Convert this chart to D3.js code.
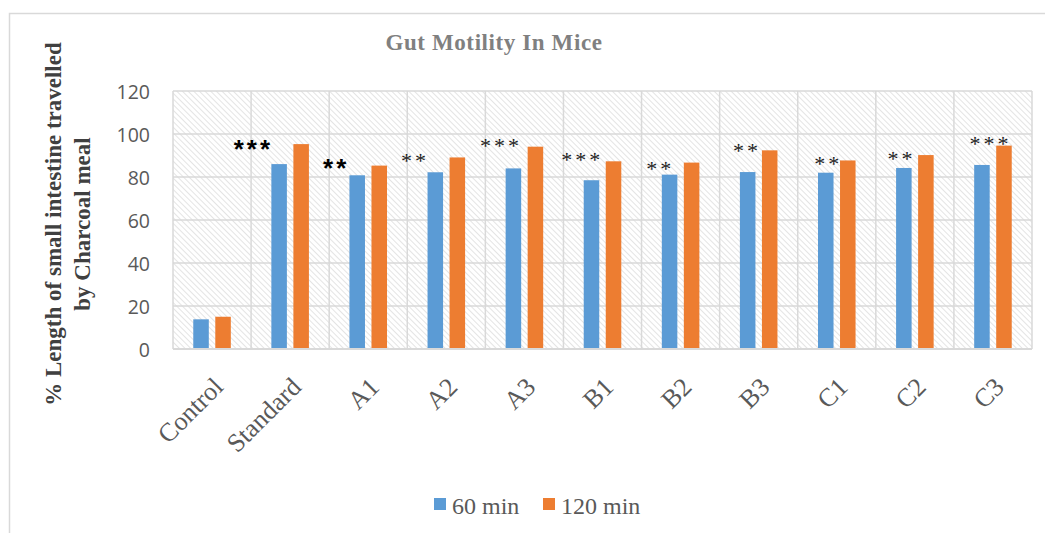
<!DOCTYPE html>
<html>
<head>
<meta charset="utf-8">
<script src="https://cdn.jsdelivr.net/npm/d3@7"></script>
<style>
  html, body { margin: 0; padding: 0; background: #fff; }
  svg { display: block; }
</style>
</head>
<body>
<svg id="chart" width="1045" height="533"></svg>
<script>
// ---- data ----
const categories = ["Control", "Standard", "A1", "A2", "A3", "B1", "B2", "B3", "C1", "C2", "C3"];
const seriesNames = ["60 min", "120 min"];
const values60 = [13.8, 86.0, 80.8, 82.2, 84.0, 78.5, 81.1, 82.3, 82.0, 84.2, 85.6];
const values120 = [15.0, 95.3, 85.3, 89.1, 94.1, 87.3, 86.7, 92.4, 87.7, 90.2, 94.6];
const yTicks = [0, 20, 40, 60, 80, 100, 120];
// significance marks: text, level (in data units), horizontal place within category band (0..1)
const sigText = ["", "***", "**", "**", "***", "***", "**", "**", "**", "**", "***"];
const sigLevel = [0, 95.5, 86.5, 90.7, 97.5, 91.2, 87.0, 95.3, 89.3, 91.6, 98.6];
const sigPlace = [0, 0.03, 0.09, 0.10, 0.20, 0.24, 0.24, 0.35, 0.39, 0.33, 0.47];
const sigBold = [false, true, true, false, false, false, false, false, false, false, false];
const colors = ["#5b9bd5", "#ed7d31"];

// ---- layout ----
const svg = d3.select("#chart");
const plot = { left: 173, top: 91, right: 1032, bottom: 349 };

// outer frame
svg.append("rect").attr("x", 9.5).attr("y", 13.5).attr("width", 1200).attr("height", 700)
  .attr("fill", "#fff").attr("stroke", "#d9d9d9").attr("stroke-width", 1.5);

// hatch pattern
const defs = svg.append("defs");
const pat = defs.append("pattern").attr("id", "hatch").attr("patternUnits", "userSpaceOnUse")
  .attr("width", 4).attr("height", 4).attr("patternTransform", "rotate(-45)");
pat.append("rect").attr("width", 4).attr("height", 4).attr("fill", "#ffffff");
pat.append("line").attr("x1", 0).attr("y1", 0).attr("x2", 0).attr("y2", 4)
  .attr("stroke", "#e0e0e0").attr("stroke-width", 1.7);

const x0 = d3.scaleBand().domain(categories).range([plot.left, plot.right]).padding(0);
const x1 = d3.scaleBand().domain(seriesNames).range([0, x0.bandwidth()])
  .paddingInner(0.295).paddingOuter(0.92);
const y = d3.scaleLinear().domain([0, 120]).range([plot.bottom, plot.top]);

// plot background
svg.append("rect").attr("x", plot.left).attr("y", plot.top)
  .attr("width", plot.right - plot.left).attr("height", plot.bottom - plot.top)
  .attr("fill", "url(#hatch)");

// horizontal grid
svg.append("g").selectAll("line").data(yTicks).join("line")
  .attr("x1", plot.left).attr("x2", plot.right)
  .attr("y1", d => y(d)).attr("y2", d => y(d))
  .attr("stroke", "#d9d9d9").attr("stroke-width", 1.5);

// vertical grid at category boundaries
const bounds = categories.map(c => x0(c)).concat([plot.right]);
svg.append("g").selectAll("line").data(bounds).join("line")
  .attr("x1", d => d).attr("x2", d => d)
  .attr("y1", plot.top).attr("y2", plot.bottom)
  .attr("stroke", "#d9d9d9").attr("stroke-width", 1.5);

// bars
const rows = categories.map((c, i) => ({ c, vals: [values60[i], values120[i]] }));
const g = svg.append("g");
rows.forEach(r => {
  r.vals.forEach((v, k) => {
    g.append("rect")
      .attr("x", x0(r.c) + x1(seriesNames[k]))
      .attr("width", x1.bandwidth())
      .attr("y", y(v))
      .attr("height", y(0) - y(v))
      .attr("fill", colors[k]);
  });
});

// axis baseline
svg.append("line").attr("x1", plot.left).attr("x2", plot.right)
  .attr("y1", y(0)).attr("y2", y(0)).attr("stroke", "#d9d9d9").attr("stroke-width", 2);

// y axis labels
const yAxis = d3.axisLeft(y).tickValues(yTicks).tickSize(0).tickPadding(0);
const ya = svg.append("g").attr("transform", `translate(${150},0)`).call(yAxis);
ya.select(".domain").remove();
ya.selectAll("text").attr("font-family", "'Open Sans', 'Liberation Sans', sans-serif")
  .attr("font-size", "19.5px").attr("fill", "#595959").attr("dy", "0.36em");

// x axis labels (rotated)
const xAxis = d3.axisBottom(x0).tickSize(0).tickPadding(0);
const xa = svg.append("g").attr("transform", `translate(0,${376})`).call(xAxis);
xa.select(".domain").remove();
xa.selectAll("text")
  .attr("font-family", "'Liberation Serif', 'Times New Roman', serif")
  .attr("font-size", "26px").attr("fill", "#595959")
  .attr("text-anchor", "end")
  .attr("dy", "0.68em").attr("y", 0).attr("x", 0)
  .attr("transform", "rotate(-45)");

// significance marks
svg.append("g").selectAll("text").data(categories.map((c, i) => i).filter(i => sigText[i]))
  .join("text")
  .attr("x", i => x0(categories[i]) + sigPlace[i] * x0.bandwidth())
  .attr("y", i => y(sigLevel[i]))
  .attr("dy", i => sigBold[i] ? "0.55em" : "0.62em")
  .attr("text-anchor", "middle")
  .attr("font-family", i => sigBold[i] ? "'Liberation Sans', sans-serif" : "'Liberation Serif', serif")
  .attr("font-weight", i => sigBold[i] ? "bold" : "normal")
  .attr("font-size", i => sigBold[i] ? "26px" : "22px")
  .attr("letter-spacing", i => sigBold[i] ? "3px" : "3px")
  .attr("fill", i => sigBold[i] ? "#000" : "#222")
  .text(i => sigText[i]);

// title
svg.append("text").attr("x", 494).attr("y", 50).attr("text-anchor", "middle")
  .attr("font-family", "'Liberation Serif', 'Times New Roman', serif")
  .attr("font-weight", "bold").attr("font-size", "23px").attr("fill", "#808080")
  .attr("letter-spacing", "0.6px")
  .text("Gut Motility In Mice");

// y title (two lines)
const yt = svg.append("text")
  .attr("transform", `translate(0,${224}) rotate(-90)`)
  .attr("text-anchor", "middle")
  .attr("font-family", "'Liberation Serif', 'Times New Roman', serif")
  .attr("font-weight", "bold").attr("font-size", "23px").attr("fill", "#404040");
yt.append("tspan").attr("x", 0).attr("y", 61).text("% Length of small intestine travelled");
yt.append("tspan").attr("x", 0).attr("y", 90).text("by Charcoal meal");

// legend
const legX = [434, 543];
const lg = svg.append("g");
seriesNames.forEach((s, k) => {
  lg.append("rect").attr("x", legX[k]).attr("y", 498).attr("width", 12).attr("height", 12)
    .attr("fill", colors[k]);
  lg.append("text").attr("x", legX[k] + 18).attr("y", 514)
    .attr("font-family", "'Liberation Serif', 'Times New Roman', serif")
    .attr("font-size", "24px").attr("fill", "#595959").text(s);
});
</script>
</body>
</html>
